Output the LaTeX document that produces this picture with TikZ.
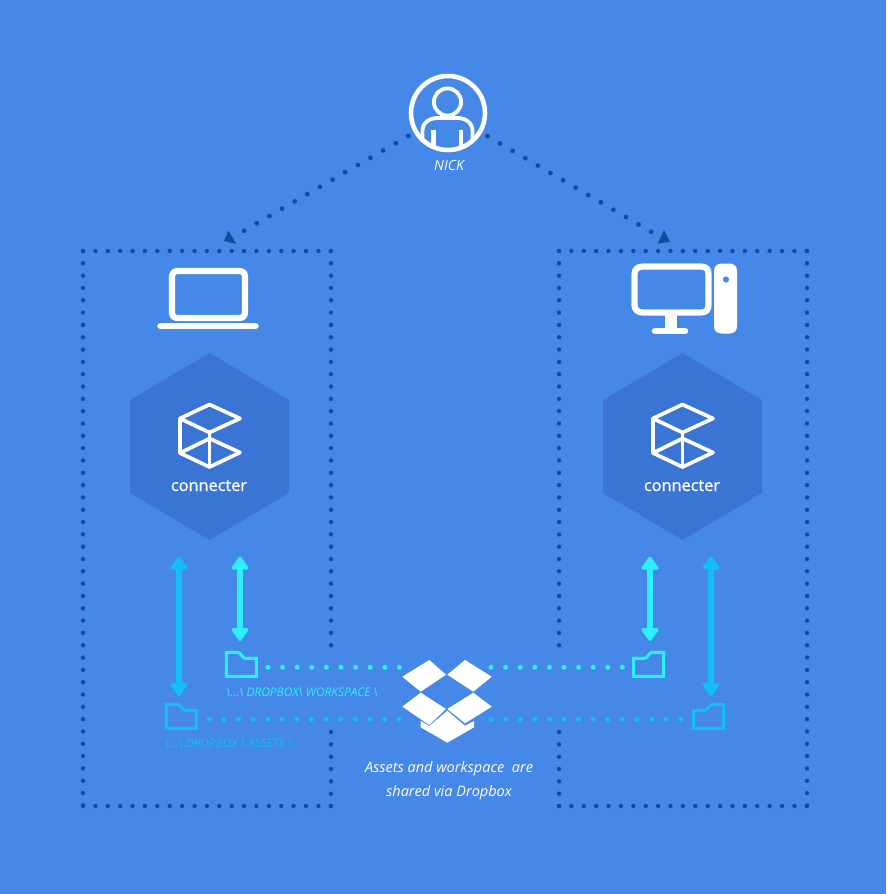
\documentclass[tikz,border=0pt]{standalone}
\usepackage{fontspec}
\setmainfont{Open Sans}
\newfontfamily\semibold[FakeBold=0.7]{Open Sans}
\usetikzlibrary{arrows.meta}
\definecolor{bgblue}{HTML}{4688E8}
\definecolor{hexblue}{HTML}{3A75D6}
\definecolor{dotblue}{HTML}{134B9F}
\definecolor{cyanA}{HTML}{2DF0FF}
\definecolor{cyanB}{HTML}{12BDFA}
\tikzset{
  x=1pt,y=-1pt,
  hdots/.style={draw=dotblue,line width=4.4pt,line cap=round,dash pattern=on 0pt off 12.39pt},
  vdots/.style={draw=dotblue,line width=4.4pt,line cap=round,dash pattern=on 0pt off 12.32pt},
  linkdots/.style={draw=dotblue,line width=4.8pt,line cap=round,dash pattern=on 0pt off 14.58pt,shorten <=6.5pt},
  tipfill/.style={fill=dotblue},
  shardots/.style={line width=5pt,line cap=round,dash pattern=on 0pt off 14.6pt},
  icon/.style={draw=white,line width=3.7pt,line join=round,line cap=round},
  thick icon/.style={draw=white,line width=6.2pt,line join=round,line cap=round},
  dblarrow/.style={line width=5.6pt,{Triangle[length=14pt,width=19pt,round,line width=3pt]}-{Triangle[length=14pt,width=19pt,round,line width=3pt]}},
  folder/.style={line width=3pt,miter limit=4},
  hexagon/.style={fill=hexblue},
  label/.style={font=\itshape,inner sep=0pt,anchor=base},
  pathlabel/.style={font=\itshape\fontsize{11.9}{13}\selectfont,inner sep=0pt,anchor=base west},
  title/.style={font=\semibold\fontsize{16.3}{18}\selectfont,text=white,inner sep=0pt,anchor=base},
}
\newcommand{\cubehex}[1]{%
  \begin{scope}[shift={(#1,0)}]
    \path[hexagon] (0,353) -- (79.5,400) -- (79.5,493) -- (0,540) -- (-79.5,493) -- (-79.5,400) -- cycle;
    \draw[icon] (0,404.5) -- (30.5,418.5) -- (0,432.5) -- (-29.5,418.5) -- cycle;
    \draw[icon] (-29.5,418.5) -- (-29.5,453) -- (0,467) -- (30.5,452.5) -- (0,438.5) -- (-29.5,453);
    \draw[icon] (0,432.5) -- (0,467);
  \end{scope}}
\begin{document}
\begin{tikzpicture}
\path[fill=bgblue,use as bounding box] (0,0) rectangle (886,894);

% dotted boxes
\draw[hdots] (83,251) -- (331,251);
\draw[vdots] (83,251) -- (83,806);
\draw[hdots] (83,806) -- (331,806);
\draw[vdots] (331,806) -- (331,732);
\draw[vdots] (331,251) -- (331,650);
\draw[hdots] (559,251) -- (807,251);
\draw[vdots] (807,251) -- (807,806);
\draw[hdots] (559,806) -- (807,806);
\draw[vdots] (559,806) -- (559,732);
\draw[vdots] (559,251) -- (559,650);

% user
\node[circle,draw=white,line width=4.6pt,minimum size=74pt,inner sep=0pt] (user) at (448,113) {};
\draw[draw=white,line width=3.8pt] (447.5,102) circle (13.6);
\draw[draw=white,line width=3.8pt] (422.5,142) -- (422.5,131) .. controls (422.5,122) and (430,118) .. (438,118) -- (457,118) .. controls (465,118) and (472.5,122) .. (472.5,131) -- (472.5,142);
\draw[draw=white,line width=4.6pt] (433.7,130) -- (433.7,147);
\draw[draw=white,line width=4.6pt] (461,130) -- (461,147);
\node[label,text=white,font=\itshape\fontsize{14}{16}\selectfont] (nick) at (449,170) {NICK};

% links
\coordinate (linkL) at (243,231.3);
\coordinate (linkR) at (652.5,232.6);
\draw[linkdots] (user) -- (linkL);
\draw[linkdots] (user) -- (linkR);
\path[tipfill] (228.3,230.5) -- (224,241) -- (236.3,244) -- cycle;
\path[tipfill] (664,230) -- (670,241.7) -- (657.7,243.7) -- cycle;

% laptop
\draw[thick icon] (178,271) -- (239,271) .. controls (243,271) and (245,273) .. (245,277) -- (245,312) .. controls (245,316) and (243,318) .. (239,318) -- (178,318) .. controls (174,318) and (172,316) .. (172,312) -- (172,277) .. controls (172,273) and (174,271) .. (178,271) -- cycle;
\draw[draw=white,line width=6.6pt,line cap=round] (160.5,326) -- (255.5,326);

% desktop
\draw[thick icon] (643,266.5) -- (701,266.5) .. controls (706,266.5) and (708.5,269) .. (708.5,274) -- (708.5,305) .. controls (708.5,310) and (706,312.5) .. (701,312.5) -- (643,312.5) .. controls (638,312.5) and (634.5,310) .. (634.5,305) -- (634.5,274) .. controls (634.5,269) and (638,266.5) .. (643,266.5) -- cycle;
\path[fill=white] (664.5,313) rectangle (676.5,330);
\draw[draw=white,line width=6.6pt,line cap=round] (655,331) -- (685,331);
\path[fill=white,even odd rule] (714,271) .. controls (714,266) and (717,263.5) .. (722,263.5) -- (729,263.5) .. controls (734,263.5) and (737,266) .. (737,271) -- (737,326) .. controls (737,331) and (734,333.5) .. (729,333.5) -- (722,333.5) .. controls (717,333.5) and (714,331) .. (714,326) -- cycle (726,279.5) circle (3.2);

% hexagons
\cubehex{209.5}
\cubehex{682.5}
\node[title] (connL) at (209,491) {connecter};
\node[title] (connR) at (682,491) {connecter};

% double arrows
\coordinate (aT) at (179,556.7); \coordinate (aB) at (179,696);
\coordinate (bT) at (240,556.7); \coordinate (bB) at (240,641);
\coordinate (cT) at (650,556.7); \coordinate (cB) at (650,641);
\coordinate (dT) at (711,556.7); \coordinate (dB) at (711,696);
\draw[dblarrow,cyanB] (aT) -- (aB);
\draw[dblarrow,cyanA] (bT) -- (bB);
\draw[dblarrow,cyanA] (cT) -- (cB);
\draw[dblarrow,cyanB] (dT) -- (dB);

% folders
\draw[folder,cyanA] (226.4,652.4) -- (238,652.4) .. controls (241,652.4) and (242,658.4) .. (246,658.4) -- (256.3,658.4) -- (256.3,676.4) -- (226.4,676.4) -- cycle;
\draw[folder,cyanB] (166.4,704.4) -- (178,704.4) .. controls (181,704.4) and (182,710.4) .. (186,710.4) -- (196.3,710.4) -- (196.3,728.4) -- (166.4,728.4) -- cycle;
\draw[folder,cyanA] (663.6,652.4) -- (652,652.4) .. controls (649,652.4) and (648,658.4) .. (644,658.4) -- (633.7,658.4) -- (633.7,676.4) -- (663.6,676.4) -- cycle;
\draw[folder,cyanB] (723.6,704.4) -- (712,704.4) .. controls (709,704.4) and (708,710.4) .. (704,710.4) -- (693.7,710.4) -- (693.7,728.4) -- (723.6,728.4) -- cycle;

% sharing dots
\draw[shardots,cyanA] (268,667.3) -- (402,667.3);
\draw[shardots,cyanB] (209.3,719.3) -- (402,719.3);
\draw[shardots,cyanA] (491,667.3) -- (625,667.3);
\draw[shardots,cyanB] (491,719.3) -- (683,719.3);

% dropbox
\path[fill=white] (429.3,660) -- (446,674.7) -- (420.7,691.7) -- (402.3,676.7) -- cycle;
\path[fill=white] (465,660) -- (491.7,676.7) -- (473.3,691.7) -- (447.3,674.7) -- cycle;
\path[fill=white] (420.7,692.7) -- (446,709) -- (429.3,725) -- (402.3,706.7) -- cycle;
\path[fill=white] (473.3,692.7) -- (491.7,706.7) -- (465,723.3) -- (447.3,709) -- cycle;
\path[fill=white] (447.3,710.7) -- (465,725.7) -- (474,721) -- (474,727.3) -- (447.3,742.7) -- (420.7,727.3) -- (420.7,721) -- (429.3,726) -- cycle;

% labels
\node[pathlabel,text=cyanA] (wsLabel) at (226,696) {\textbackslash...\textbackslash{} DROPBOX\textbackslash{} WORKSPACE \textbackslash};
\node[pathlabel,text=cyanB] (asLabel) at (165,747) {\textbackslash...\textbackslash{} DROPBOX \textbackslash{} ASSETS \textbackslash};
\node[label,text=white,font=\itshape\fontsize{14.5}{16}\selectfont] (share1) at (449,772) {Assets and workspace\ \ are};
\node[label,text=white,font=\itshape\fontsize{14.5}{16}\selectfont] (share2) at (449,796) {shared via Dropbox};
\end{tikzpicture}
\end{document}
